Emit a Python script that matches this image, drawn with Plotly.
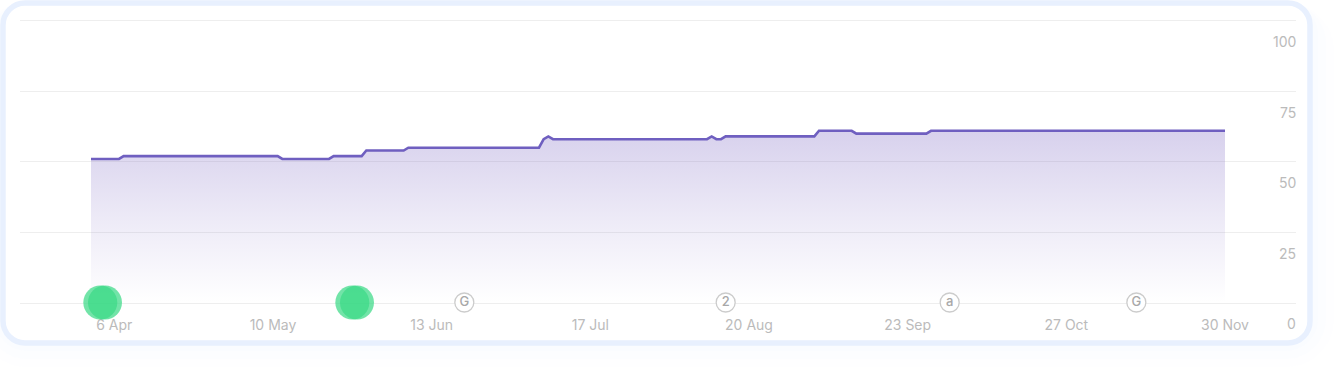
import plotly.graph_objects as go

W, H = 1338, 370

# Series: dates at which the line changes slope, and its value there
dates = ["2023-04-01","2023-04-07","2023-04-08","2023-05-11","2023-05-12","2023-05-22","2023-05-23",
         "2023-05-29","2023-05-30","2023-06-07","2023-06-08","2023-07-06","2023-07-07","2023-07-08",
         "2023-07-09","2023-08-11","2023-08-12","2023-08-13","2023-08-14","2023-08-15","2023-09-03",
         "2023-09-04","2023-09-11","2023-09-12","2023-09-27","2023-09-28","2023-11-30"]
values = [51,51,52,52,51,51,52,52,54,54,55,55,58,59,58,58,59,58,58,59,59,61,61,60,60,61,61]

# Green event markers
green_dates = ["2023-04-03","2023-04-04","2023-05-27","2023-05-28"]
# Small lettered markers
badge_dates = ["2023-06-20","2023-08-15","2023-10-02","2023-11-11"]
badge_text = ["G","2","a","G"]

x_ticks = ["2023-04-06","2023-05-10","2023-06-13","2023-07-17","2023-08-20","2023-09-23","2023-10-27","2023-11-30"]
y_ticks = [0,25,50,75,100]
x_range = ["2023-03-16 19:00","2023-12-15 05:00"]


def rounded(x0, y0, x1, y1, r):
    fx = lambda v: v / W
    fy = lambda v: 1 - v / H
    k = r * 0.45
    pts = [
        f"M {fx(x0+r)} {fy(y0)}", f"L {fx(x1-r)} {fy(y0)}",
        f"C {fx(x1-k)} {fy(y0)} {fx(x1)} {fy(y0+k)} {fx(x1)} {fy(y0+r)}",
        f"L {fx(x1)} {fy(y1-r)}",
        f"C {fx(x1)} {fy(y1-k)} {fx(x1-k)} {fy(y1)} {fx(x1-r)} {fy(y1)}",
        f"L {fx(x0+r)} {fy(y1)}",
        f"C {fx(x0+k)} {fy(y1)} {fx(x0)} {fy(y1-k)} {fx(x0)} {fy(y1-r)}",
        f"L {fx(x0)} {fy(y0+r)}",
        f"C {fx(x0)} {fy(y0+k)} {fx(x0+k)} {fy(y0)} {fx(x0+r)} {fy(y0)} Z",
    ]
    return " ".join(pts)


shapes = []
for grow, alpha in [(24, 0.05), (16, 0.06), (8, 0.08)]:
    shapes.append(dict(type="path", xref="paper", yref="paper", layer="below",
                       path=rounded(3 - grow, 3, 1310 + grow, 343 + grow, 24 + grow),
                       fillcolor=f"rgba(226,236,252,{alpha})", line=dict(width=0)))
shapes.append(dict(type="path", xref="paper", yref="paper", layer="below",
                   path=rounded(3, 3, 1310, 343, 22),
                   fillcolor="#ffffff", line=dict(color="#e8f0fe", width=5.5)))

fig = go.Figure()
fig.add_trace(go.Scatter(
    x=dates, y=values, mode="lines",
    line=dict(color="#6f5fc0", width=2.6),
    fill="tozeroy",
    fillgradient=dict(type="vertical", start=0, stop=61,
                      colorscale=[[0, "rgba(113,90,190,0.0)"], [0.5, "rgba(113,90,190,0.13)"], [1, "rgba(113,90,190,0.28)"]]),
    hoverinfo="skip", showlegend=False, cliponaxis=False))
fig.add_trace(go.Scatter(
    x=green_dates, y=[0] * len(green_dates), mode="markers",
    marker=dict(size=34, color="rgba(60,218,135,0.72)", line=dict(width=0)),
    hoverinfo="skip", showlegend=False, cliponaxis=False))
fig.add_trace(go.Scatter(
    x=badge_dates, y=[0] * len(badge_dates), mode="markers+text",
    text=badge_text, textposition="middle center",
    textfont=dict(family="Inter", size=13, color="#a8a8a8", weight=500),
    marker=dict(size=19, color="#ffffff", line=dict(width=1.3, color="#cccccc")),
    hoverinfo="skip", showlegend=False, cliponaxis=False))

annotations = [dict(x=1, xref="x domain", y=v, yref="y", text=str(v), showarrow=False,
                    xanchor="right", yanchor="middle", yshift=-21, xshift=2,
                    font=dict(family="Inter", size=14, color="#bbbbbb")) for v in y_ticks]

fig.update_layout(
    width=W, height=H, margin=dict(l=0, r=0, t=0, b=0),
    paper_bgcolor="#ffffff", plot_bgcolor="rgba(0,0,0,0)",
    shapes=shapes, annotations=annotations, showlegend=False,
    xaxis=dict(type="date", range=x_range, domain=[20 / W, 1296 / W],
               tickvals=x_ticks, tickformat="%-d %b", showgrid=False, zeroline=False,
               showline=True, linecolor="#eeeeee", linewidth=1.3, mirror=True,
               layer="below traces", ticks="", ticklabelstandoff=10,
               tickfont=dict(family="Inter", size=14, color="#bbbbbb"), fixedrange=True),
    yaxis=dict(range=[0, 100], domain=[1 - 302.5 / H, 1 - 21 / H], tickvals=y_ticks,
               showticklabels=False, showgrid=True, gridcolor="#eeeeee", gridwidth=1.3,
               zeroline=False, showline=False, ticks="", fixedrange=True),
)

fig.write_html("out.html", config={"displayModeBar": False},
               post_script="document.body.style.margin='0';")
